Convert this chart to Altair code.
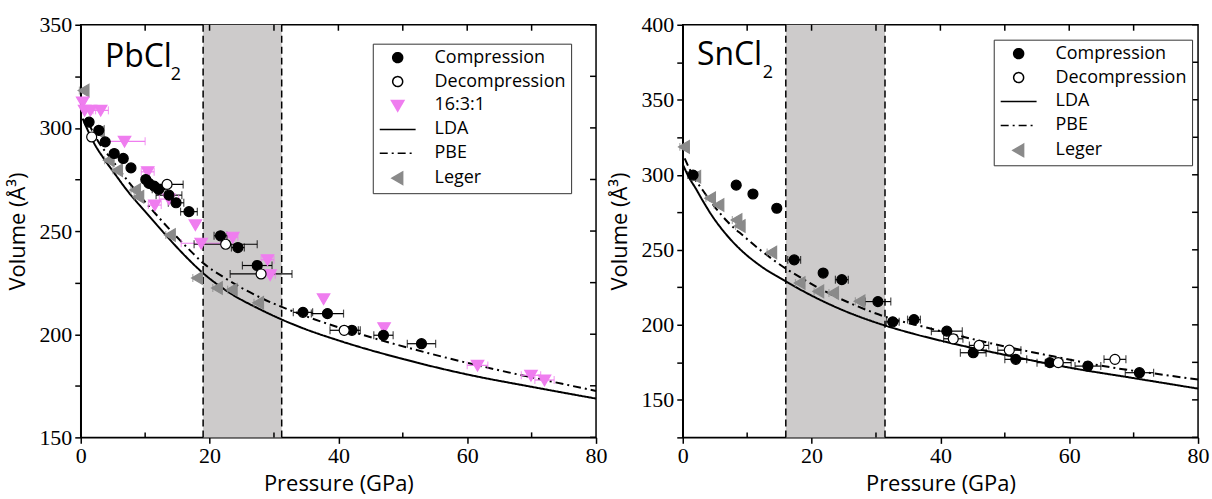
import altair as alt
import pandas as pd

# ===================== PbCl2 (left panel) =====================
pb_comp_P = [1.3, 2.8, 3.8, 5.2, 6.6, 7.8, 10.1, 10.6, 11.4, 12.1, 13.7, 14.8, 16.8, 21.7, 24.4, 27.4, 34.5, 38.3, 42.1, 47.0, 52.9]
pb_comp_V = [302.8, 298.8, 293.2, 287.6, 285.2, 280.6, 275.0, 273.1, 271.8, 270.2, 267.4, 263.7, 259.4, 247.7, 242.0, 233.3, 210.6, 210.0, 201.9, 199.5, 195.4]
pb_comp_E = [0, 0, 0, 0, 0, 0, 0, 0, 0, 1.0, 2.0, 1.2, 1.3, 1.0, 1.0, 2.3, 1.5, 2.5, 1.3, 1.5, 2.2]

pb_dec_P = [1.7, 13.4, 22.5, 28.0, 40.9]
pb_dec_V = [295.6, 272.6, 243.6, 229.2, 201.9]
pb_dec_E = [0, 2.5, 4.9, 4.8, 2.2]

pb_mix_P = [0.3, 0.6, 1.5, 3.1, 6.8, 10.4, 11.5, 13.7, 17.8, 18.7, 23.6, 29.0, 29.4, 37.7, 47.1, 61.6, 69.9, 72.0]
pb_mix_V = [312.5, 308.5, 308.5, 308.5, 293.5, 278.7, 262.6, 265.5, 253.0, 244.1, 247.0, 236.1, 228.8, 217.1, 203.1, 184.9, 180.1, 177.8]
pb_mix_E = [0, 0, 0.8, 1.2, 3.2, 1.0, 1.0, 1.5, 0, 3.1, 0.8, 1.0, 0.8, 0, 0, 1.6, 1.5, 1.5]

pb_leg_P = [0.5, 2.9, 4.4, 5.7, 8.5, 9.0, 13.9, 18.1, 21.2, 23.5, 27.6]
pb_leg_V = [318.1, 298.0, 284.3, 279.5, 269.9, 266.6, 248.1, 227.2, 222.4, 221.6, 215.2]
pb_leg_E = [0.7, 0.7, 0.7, 0.7, 0.7, 0.7, 0.7, 0.7, 0.7, 0.7, 0.7]

pb_lda_P = [0.3, 1.0, 2.0, 3.5, 5.0, 7.5, 10.0, 13.0, 16.0, 19.0, 23.0, 28.0, 34.0, 40.0, 50.0, 60.0, 70.0, 80.0]
pb_lda_V = [304.5, 299.5, 293.0, 285.5, 279.0, 268.5, 259.5, 248.8, 238.6, 229.6, 220.3, 211.8, 203.5, 197.0, 188.0, 180.5, 174.5, 168.8]

pb_pbe_P = [0.3, 1.5, 2.6, 4.9, 7.0, 9.5, 12.0, 14.5, 17.0, 19.0, 22.0, 25.0, 28.0, 35.0, 44.0, 54.0, 65.0, 75.0, 80.0]
pb_pbe_V = [310.5, 300.5, 294.0, 284.3, 275.5, 266.0, 257.0, 248.5, 240.5, 234.5, 228.0, 222.4, 217.6, 208.7, 199.5, 190.8, 182.5, 175.8, 172.5]

pb_band = [19.0, 31.2]

# ===================== SnCl2 (right panel) =====================
sn_comp_P = [1.6, 8.3, 10.9, 14.6, 17.3, 21.8, 24.7, 30.3, 32.6, 35.9, 41.0, 45.1, 51.7, 57.0, 62.9, 70.9]
sn_comp_V = [299.8, 293.1, 287.2, 277.7, 243.3, 234.5, 230.1, 215.5, 202.0, 203.5, 195.8, 181.4, 177.0, 174.8, 172.5, 168.1]
sn_comp_E = [0.8, 0, 0, 0, 1.0, 0, 1.0, 2.0, 1.0, 1.0, 2.4, 2.0, 1.7, 2.0, 2.0, 2.2]

sn_dec_P = [42.0, 46.0, 50.7, 58.3, 67.1]
sn_dec_V = [190.7, 186.3, 183.1, 174.8, 177.0]
sn_dec_E = [1.5, 1.5, 1.8, 2.0, 1.7]

sn_leg_P = [0.25, 2.0, 4.3, 5.6, 8.4, 8.9, 13.8, 18.2, 21.1, 23.4, 27.5]
sn_leg_V = [318.6, 298.7, 284.3, 279.9, 269.9, 265.9, 248.2, 227.9, 222.3, 221.2, 215.7]
sn_leg_E = [0.7, 0.7, 0.7, 0.7, 0.7, 0.7, 0.7, 0.7, 0.7, 0.7, 0.7]

sn_lda_P = [0.1, 1.0, 2.0, 3.0, 4.5, 6.5, 9.0, 12.0, 16.0, 20.0, 25.0, 30.0, 35.0, 40.0, 50.0, 60.0, 70.0, 80.0]
sn_lda_V = [306.0, 298.0, 291.0, 283.5, 273.0, 261.5, 250.0, 239.5, 229.0, 219.5, 209.5, 201.5, 195.0, 189.5, 180.0, 171.5, 164.5, 157.5]

sn_pbe_P = [0.3, 1.5, 3.3, 5.0, 7.0, 9.5, 12.0, 14.0, 16.0, 18.5, 22.0, 26.5, 31.0, 38.0, 48.0, 57.5, 66.0, 75.0, 80.0]
sn_pbe_V = [311.0, 300.0, 288.5, 278.5, 268.5, 259.0, 250.0, 243.5, 237.5, 231.0, 222.5, 213.5, 206.0, 198.0, 187.5, 179.0, 172.0, 166.5, 163.5]

sn_band = [16.0, 31.4]

# ===================== ticks / labels =====================
x_ticks = [0, 20, 40, 60, 80]
x_minor = [10, 30, 50, 70]
x_top = [10, 20, 30, 40, 50, 60, 70]
pb_y_ticks = [150, 175, 200, 225, 250, 275, 300, 325, 350]
sn_y_ticks = [125, 150, 175, 200, 225, 250, 275, 300, 325, 350, 375, 400]

# ===================== styles =====================
PINK = "#ef7def"
GREY = "#8a8a8a"
LINE_SYM = "M-3.6,0H3.6"
STYLE = {
    "Compression":   dict(fill="black", stroke="black", shape="circle", dash=[1, 0]),
    "Decompression": dict(fill="white", stroke="black", shape="circle", dash=[1, 0]),
    "16:3:1":        dict(fill=PINK, stroke=PINK, shape="M-1.25,-1.0L1.25,-1.0L0,1.15Z", dash=[1, 0]),
    "LDA":           dict(fill="transparent", stroke="black", shape=LINE_SYM, dash=[1, 0]),
    "PBE":           dict(fill="transparent", stroke="black", shape=LINE_SYM, dash=[8, 4, 2, 4]),
    "Leger":         dict(fill=GREY, stroke=GREY, shape="M-1.15,0L1.0,-1.25L1.0,1.25Z", dash=[1, 0]),
}
ERRCOL = {"Compression": "black", "Decompression": "black", "16:3:1": PINK, "Leger": GREY}

W, H = 517, 414
TITLE_FONT = "Open Sans"
TICK_FONT = "Liberation Serif, serif"


def build_panel(order, point_sets, lda, pbe, band, ydom, yticks, name, name_pos, legend_xy):
    pts, errs, caps = [], [], []
    for s in point_sets:
        ser, Ps, Vs, Es = s
        for p, v, e in zip(Ps, Vs, Es):
            pts.append({"P": p, "V": v, "series": ser})
            if e > 0:
                errs.append({"lo": p - e, "hi": p + e, "V": v, "ecol": ERRCOL[ser], "series": ser})
                caps.append({"P": p - e, "V": v, "ecol": ERRCOL[ser]})
                caps.append({"P": p + e, "V": v, "ecol": ERRCOL[ser]})
    pts_df = pd.DataFrame(pts)
    err_df = pd.DataFrame(errs)
    cap_df = pd.DataFrame(caps)
    lines_df = pd.DataFrame(
        [{"P": p, "V": v, "series": "LDA"} for p, v in zip(*lda)]
        + [{"P": p, "V": v, "series": "PBE"} for p, v in zip(*pbe)]
    )
    band_df = pd.DataFrame({"x0": [band[0]], "x1": [band[1]]})
    edge_df = pd.DataFrame({"xb": band})

    xs = alt.Scale(domain=[0, 80], nice=False, zero=False)
    ys = alt.Scale(domain=ydom, nice=False, zero=False)
    xaxis = alt.Axis(values=x_ticks, title="Pressure (GPa)", labelFlush=False, tickSize=6,
                     labelPadding=2, titlePadding=7, labelFont=TICK_FONT, labelFontSize=22,
                     titleFont=TITLE_FONT, titleFontSize=22)
    yaxis = alt.Axis(values=yticks, title="Volume (Å³)", tickSize=6, labelPadding=3,
                     labelExpr="datum.value % 50 == 0 ? datum.label : ''", labelFlush=False,
                     titlePadding=9, labelFont=TICK_FONT, labelFontSize=22,
                     titleFont=TITLE_FONT, titleFontSize=22)

    def X(f):
        return alt.X(f, type="quantitative", scale=xs, axis=xaxis)

    def Y(f):
        return alt.Y(f, type="quantitative", scale=ys, axis=yaxis)

    leg = alt.Legend(orient="none", legendX=legend_xy[0], legendY=legend_xy[1], padding=5,
                     strokeColor="#333333", fillColor="white", labelFont=TITLE_FONT,
                     labelFontSize=18, labelColor="black", labelOffset=28, symbolSize=100,
                     symbolStrokeWidth=1.5, symbolOffset=11, rowPadding=6, labelLimit=300,
                     symbolOpacity=1)
    fill_sc = alt.Scale(domain=order, range=[STYLE[s]["fill"] for s in order])
    stroke_sc = alt.Scale(domain=order, range=[STYLE[s]["stroke"] for s in order])
    shape_sc = alt.Scale(domain=order, range=[STYLE[s]["shape"] for s in order])
    dash_sc = alt.Scale(domain=order, range=[STYLE[s]["dash"] for s in order])

    band_l = alt.Chart(band_df).mark_rect(color="#cdcbcb").encode(x=X("x0"), x2="x1")
    edge_l = alt.Chart(edge_df).mark_rule(color="black", strokeWidth=1.5, strokeDash=[7, 4]).encode(x=X("xb"))

    lines_l = alt.Chart(lines_df).mark_line(strokeWidth=2, interpolate="monotone").encode(
        x=X("P"), y=Y("V"),
        stroke=alt.Stroke("series:N", scale=stroke_sc, legend=leg, title=None),
        strokeDash=alt.StrokeDash("series:N", scale=dash_sc, legend=leg, title=None),
        detail="series:N",
    )
    err_l = alt.Chart(err_df).mark_rule(strokeWidth=1.2).encode(
        x=X("lo"), x2="hi", y=Y("V"), color=alt.Color("ecol:N", scale=None))
    cap_l = alt.Chart(cap_df).mark_tick(orient="vertical", size=8, thickness=1.2).encode(
        x=X("P"), y=Y("V"), color=alt.Color("ecol:N", scale=None))
    pts_l = alt.Chart(pts_df).mark_point(filled=True, opacity=1, size=100, strokeWidth=1.2).encode(
        x=X("P"), y=Y("V"),
        fill=alt.Fill("series:N", scale=fill_sc, legend=leg, title=None),
        stroke=alt.Stroke("series:N", scale=stroke_sc, legend=leg, title=None),
        shape=alt.Shape("series:N", scale=shape_sc, legend=leg, title=None),
        order=alt.Order("ord:Q"),
    ).transform_calculate(
        ord="datum.series == 'Leger' ? 0 : datum.series == '16:3:1' ? 1 : datum.series == 'Compression' ? 2 : 3"
    )

    top_df = pd.DataFrame({"xt": x_top})
    minor_df = pd.DataFrame({"xm": x_minor})
    right_df = pd.DataFrame({"yr": yticks})
    top_l = alt.Chart(top_df).mark_rule(color="black", strokeWidth=1.5).encode(
        x=X("xt"), y=alt.value(0), y2=alt.value(6))
    minor_l = alt.Chart(minor_df).mark_rule(color="black", strokeWidth=1.5).encode(
        x=X("xm"), y=alt.value(H - 5), y2=alt.value(H))
    right_l = alt.Chart(right_df).mark_rule(color="black", strokeWidth=1.5).encode(
        y=Y("yr"), x=alt.value(W - 6), x2=alt.value(W))

    name_df = pd.DataFrame({"P": [name_pos[0]], "V": [name_pos[1]], "t": [name]})
    name_l = alt.Chart(name_df).mark_text(align="left", baseline="alphabetic", font=TITLE_FONT,
                                          fontSize=32, color="black").encode(
        x=X("P"), y=Y("V"), text="t:N")
    sub_df = pd.DataFrame({"P": [name_pos[0]], "V": [name_pos[1]], "t": ["2"]})
    sub_l = alt.Chart(sub_df).mark_text(align="left", baseline="alphabetic", font=TITLE_FONT,
                                        fontSize=18, color="black", dx=66, dy=13).encode(
        x=X("P"), y=Y("V"), text="t:N")

    return alt.layer(band_l, edge_l, top_l, minor_l, right_l, lines_l, err_l, cap_l, pts_l,
                     name_l, sub_l).properties(width=W, height=H)


left = build_panel(
    ["Compression", "Decompression", "16:3:1", "LDA", "PBE", "Leger"],
    [("Leger", pb_leg_P, pb_leg_V, pb_leg_E),
     ("16:3:1", pb_mix_P, pb_mix_V, pb_mix_E),
     ("Compression", pb_comp_P, pb_comp_V, pb_comp_E),
     ("Decompression", pb_dec_P, pb_dec_V, pb_dec_E)],
    (pb_lda_P, pb_lda_V), (pb_pbe_P, pb_pbe_V), pb_band, [150, 350], pb_y_ticks,
    "PbCl", (3.76, 329.7), (293, 19))

right = build_panel(
    ["Compression", "Decompression", "LDA", "PBE", "Leger"],
    [("Leger", sn_leg_P, sn_leg_V, sn_leg_E),
     ("Compression", sn_comp_P, sn_comp_V, sn_comp_E),
     ("Decompression", sn_dec_P, sn_dec_V, sn_dec_E)],
    (sn_lda_P, sn_lda_V), (sn_pbe_P, sn_pbe_V), sn_band, [125, 400], sn_y_ticks,
    "SnCl", (2.2, 373.4), (312, 15))

chart = alt.hconcat(left, right, spacing=87, bounds="flush").resolve_scale(
    fill="independent", stroke="independent", shape="independent", strokeDash="independent"
).configure_view(stroke="black", strokeWidth=1.5).configure_axis(
    grid=False, domainColor="black", domainWidth=1.5, tickColor="black", tickWidth=1.5,
    labelColor="black", titleFontWeight="normal", titleColor="black",
).properties(padding={"left": 6, "top": 12, "right": 2, "bottom": 0}, background="white")

chart.save("out.html", embed_options={"renderer": "svg", "actions": False})
